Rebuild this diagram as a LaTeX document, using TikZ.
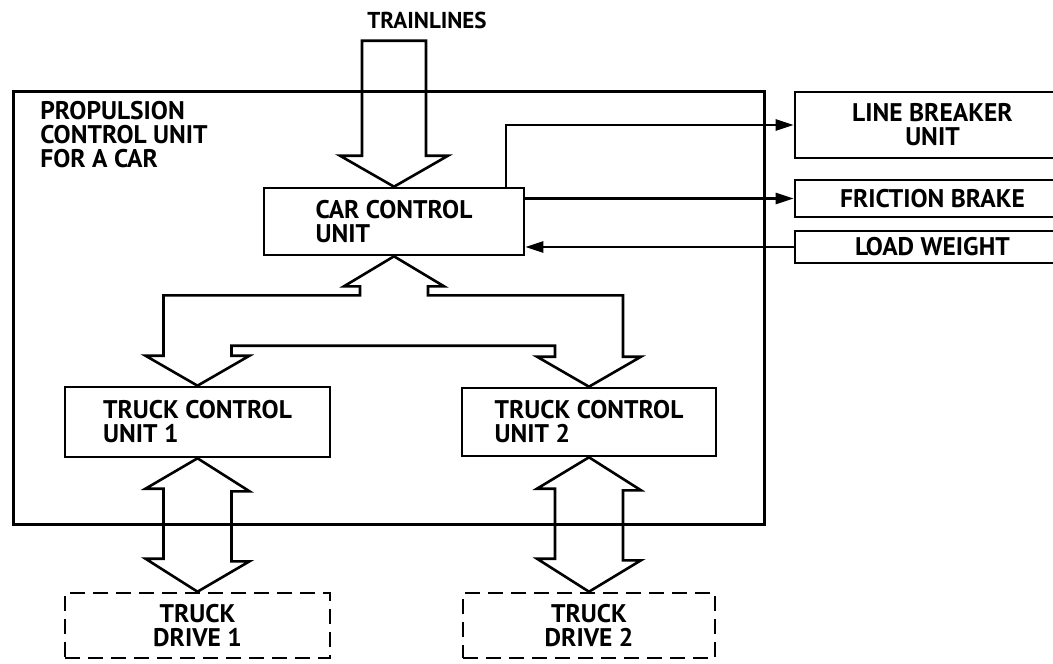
\documentclass[tikz,border=0pt]{standalone}
\usepackage{fontspec}
\setmainfont{PT Sans}
\usetikzlibrary{arrows.meta,calc}

\tikzset{
  unitbox/.style={draw,align=left,inner sep=0pt},
  drivebox/.style={unitbox,align=center,dash pattern=on 15pt off 8pt},
  fatarrow/.style={line join=miter},
  sig/.style={-{Triangle[length=18pt,width=11pt]}}
}

\begin{document}
\begin{tikzpicture}[x=1pt,y=-1pt,line width=2.6pt,font=\fontsize{25.5}{24}\selectfont\bfseries]
\useasboundingbox (0,0) rectangle (1053,664);
\clip (0,0) rectangle (1053,664);
% propulsion control unit frame
\node[draw,inner sep=0pt,minimum width=751pt,minimum height=433pt,anchor=north west] (pcu) at (12,90) {};
\node[anchor=north west,align=left,inner sep=0pt] (pcutext) at (39,100) {PROPULSION\\CONTROL UNIT\\FOR A CAR};
% units
\node[unitbox,minimum width=260pt,minimum height=67pt] (ccu) at (394,221.5) {CAR CONTROL\\UNIT};
\node[unitbox,minimum width=265pt,minimum height=70pt] (tcu1) at (197.5,422) {TRUCK CONTROL\\UNIT 1};
\node[unitbox,minimum width=254pt,minimum height=68pt] (tcu2) at (589,422) {TRUCK CONTROL\\UNIT 2};
\node[drivebox,minimum width=265pt,minimum height=65pt] (td1) at (197.5,625.5) {TRUCK\\DRIVE 1};
\node[drivebox,minimum width=252pt,minimum height=65pt] (td2) at (589,625.5) {TRUCK\\DRIVE 2};
% outside equipment
\node[unitbox,align=center,minimum width=275pt,minimum height=66pt] (lbu) at (932.5,125) {LINE BREAKER\\UNIT};
\node[unitbox,minimum width=275pt,minimum height=37pt] (fb) at (932.5,198.5) {FRICTION BRAKE};
\node[unitbox,minimum width=275pt,minimum height=32pt] (lw) at (932.5,247) {LOAD WEIGHT};
\node[font=\fontsize{23}{24}\selectfont\bfseries] (trainlines) at (427,20) {TRAINLINES};
% wide arrows
\draw[fatarrow] (ccu.north) -- ++(-54,-31) -- ++(22,0) -- ++(0,-115) -- ++(64,0) -- ++(0,115) -- ++(22,0) -- cycle;
\draw[fatarrow] (ccu.south) -- ++(-50,30) -- ++(16,0) -- ++(0,9)
  -| ([xshift=-34pt,yshift=30pt]tcu1.north) -- ++(-18,0) -- (tcu1.north) -- ++(52,-30) -- ++(-18,0) -- ++(0,-10)
  -| ([xshift=-34pt,yshift=30pt]tcu2.north) -- ++(-18,0) -- (tcu2.north) -- ++(52,-30) -- ++(-18,0)
  |- ([xshift=34pt,yshift=-39pt]ccu.south) -- ++(0,-9) -- ++(16,0) -- cycle;
\draw[fatarrow] (tcu1.south) -- ++(52,33) -- ++(-18,0) -- ++(0,70) -- ++(18,0) -- (td1.north)
  -- ++(-52,-33) -- ++(18,0) -- ++(0,-70) -- ++(-18,0) -- cycle;
\draw[fatarrow] (tcu2.south) -- ++(52,33) -- ++(-18,0) -- ++(0,70) -- ++(18,0) -- (td2.north)
  -- ++(-52,-33) -- ++(18,0) -- ++(0,-70) -- ++(-18,0) -- cycle;
% signal lines
\draw[sig] ([xshift=112pt]ccu.north) |- (lbu.west);
\draw[sig] (ccu.east |- fb.west) -- (fb.west);
\draw[sig] (lw.west) -- (ccu.east |- lw.west);
\end{tikzpicture}
\end{document}
